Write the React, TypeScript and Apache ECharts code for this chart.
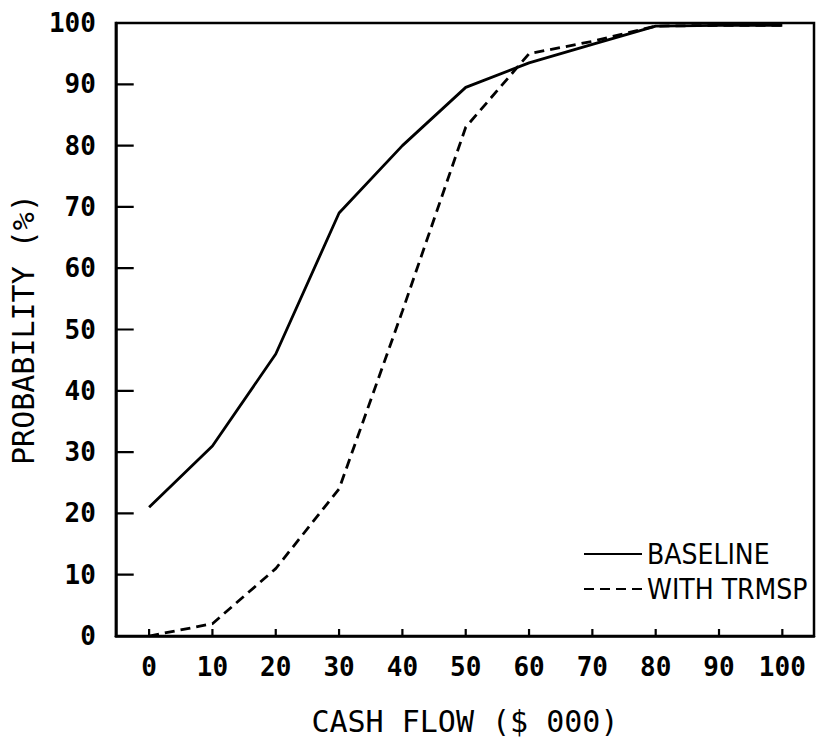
import React, { useEffect, useRef } from "react";
import * as echarts from "echarts";

const xValues = [0, 10, 20, 30, 40, 50, 60, 70, 80, 90, 100];
const baseline = [21, 31, 46, 69, 80, 89.5, 93.5, 96.5, 99.5, 99.6, 99.6];
const withTrmsp = [0, 2, 11, 24, 53, 83, 95, 97, 99.5, 99.6, 99.6];
const xTicks = [0, 10, 20, 30, 40, 50, 60, 70, 80, 90, 100];
const yTicks = [10, 20, 30, 40, 50, 60, 70, 80, 90];
const seriesNames = ["BASELINE", "WITH TRMSP"];

const X_MIN = -5.25;
const X_MAX = 105;
const Y_MIN = 0;
const Y_MAX = 100;

const W = 817;
const H = 741;
const G_LEFT = 110;
const G_RIGHT = 3;
const G_TOP = 23;
const G_BOTTOM = 104;

export default function App() {
  const ref = useRef<HTMLDivElement>(null);
  useEffect(() => {
    if (!ref.current) return;
    const chart = echarts.init(ref.current, null, { renderer: "svg" });
    const mono = "'DejaVu Sans Mono', monospace";
    const narrow = "'Liberation Sans Narrow', 'DejaVu Sans Condensed', 'Liberation Sans', sans-serif";

    // tick lengths (pixels) converted into axis units
    const xUnitsPerPx = (X_MAX - X_MIN) / (W - G_LEFT - G_RIGHT);
    const yUnitsPerPx = (Y_MAX - Y_MIN) / (H - G_TOP - G_BOTTOM);
    const yTickLen = 18 * xUnitsPerPx;
    const xTickLen = 7 * yUnitsPerPx;
    const yTickData: any[] = [];
    yTicks.forEach((v) => {
      yTickData.push([X_MIN, v], [X_MIN + yTickLen, v], ["-", "-"]);
    });
    const xTickData: any[] = [];
    xTicks.forEach((v) => {
      xTickData.push([v, Y_MIN], [v, Y_MIN + xTickLen], ["-", "-"]);
    });
    const tickSeries = (name: string, data: any[]) => ({
      name,
      type: "line",
      silent: true,
      clip: false,
      z: 5,
      showSymbol: false,
      symbol: "none",
      connectNulls: false,
      data,
      lineStyle: { color: "#000", width: 2.2, type: "solid" },
      itemStyle: { color: "#000" },
    });

    chart.setOption({
      animation: false,
      backgroundColor: "#fff",
      grid: {
        left: G_LEFT,
        right: G_RIGHT,
        top: G_TOP,
        bottom: G_BOTTOM,
        show: true,
        borderColor: "#000",
        borderWidth: 2.5,
      },
      legend: {
        orient: "vertical",
        left: 583,
        top: 540,
        padding: 0,
        itemWidth: 58,
        itemHeight: 14,
        itemGap: 7,
        data: seriesNames,
        itemStyle: { color: "rgba(0,0,0,0)", borderWidth: 0, opacity: 0 },
        textStyle: { fontFamily: narrow, fontSize: 28, color: "#000" },
      },
      xAxis: {
        type: "value",
        min: X_MIN,
        max: X_MAX,
        name: "CASH FLOW ($ 000)",
        nameLocation: "middle",
        nameGap: 70,
        nameTextStyle: { fontFamily: mono, fontSize: 30, color: "#000" },
        axisLine: { show: true, onZero: false, lineStyle: { color: "#000", width: 2.5 } },
        axisTick: { show: false },
        axisLabel: {
          customValues: xTicks,
          margin: 18,
          fontFamily: mono,
          fontWeight: "bold",
          fontSize: 26,
          color: "#000",
        },
        splitLine: { show: false },
      },
      yAxis: {
        type: "value",
        min: Y_MIN,
        max: Y_MAX,
        interval: 10,
        name: "PROBABILITY (%)",
        nameLocation: "middle",
        nameGap: 72,
        nameTextStyle: { fontFamily: mono, fontSize: 30, color: "#000" },
        axisLine: { show: true, onZero: false, lineStyle: { color: "#000", width: 2.5 } },
        axisTick: { show: false },
        axisLabel: {
          margin: 20,
          fontFamily: mono,
          fontWeight: "bold",
          fontSize: 26,
          color: "#000",
        },
        splitLine: { show: false },
      },
      series: [
        {
          name: seriesNames[0],
          type: "line",
          showSymbol: false,
          symbol: "none",
          data: xValues.map((x, i) => [x, baseline[i]]),
          lineStyle: { color: "#000", width: 2.8, type: "solid" },
          itemStyle: { color: "#000" },
        },
        {
          name: seriesNames[1],
          type: "line",
          showSymbol: false,
          symbol: "none",
          data: xValues.map((x, i) => [x, withTrmsp[i]]),
          lineStyle: { color: "#000", width: 2.8, type: [10, 6] },
          itemStyle: { color: "#000" },
        },
        tickSeries("yTickMarks", yTickData),
        tickSeries("xTickMarks", xTickData),
      ],
    });
    return () => chart.dispose();
  }, []);
  return (
    <div
      ref={ref}
      style={{ position: "fixed", left: 0, top: 0, width: W, height: H, background: "#fff" }}
    />
  );
}
